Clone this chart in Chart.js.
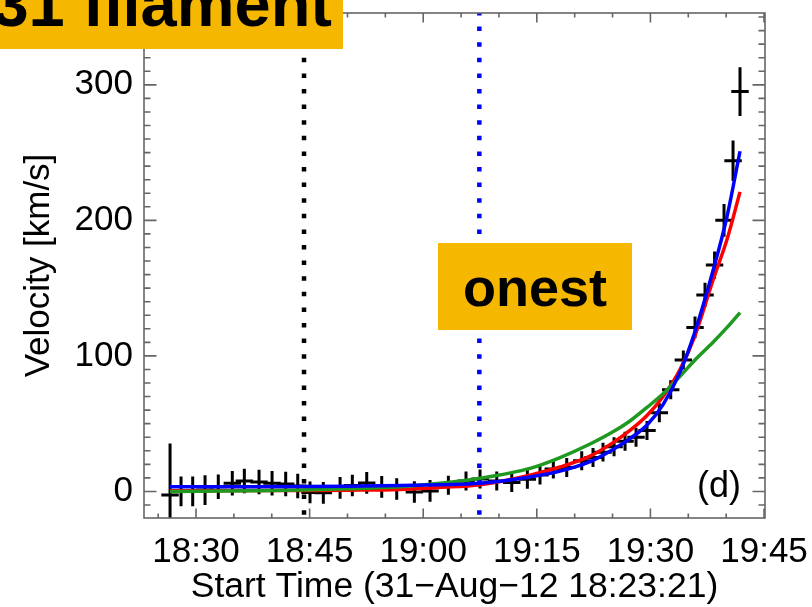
<!DOCTYPE html>
<html>
<head>
<meta charset="utf-8">
<script src="https://cdn.jsdelivr.net/npm/chart.js@4"></script>
<style>
  html, body { margin: 0; padding: 0; background: #fff; }
  canvas { display: block; }
</style>
</head>
<body>
<canvas id="c" width="812" height="607"></canvas>
<script>
// time in minutes after 18:00, velocity in km/s
const obsTime = [26.57, 28.02, 29.56, 31.19, 32.94, 34.79, 36.38, 38.32, 40.04, 41.84,
  43.43, 45.05, 46.81, 49.02, 50.64, 52.54, 54.52, 56.50, 58.83, 60.90,
  63.32, 65.65, 67.50, 69.71, 71.69, 73.75, 75.42, 77.18, 78.95, 80.93,
  82.42, 83.74, 85.20, 86.65, 88.10, 89.55, 91.18, 92.68, 94.35, 95.89,
  97.21, 98.47, 99.72, 100.91, 101.83];
const obsVel = [-2.6, 0, 0, 1, 3.5, 6, 7.7, 7, 6, 5.5,
  4, -0.7, -1, 2.6, 4.4, 6.3, 3.3, 1.8, -0.4, 0.4,
  4.5, 7.7, 9.2, 7.7, 6.6, 8.9, 12.2, 16.6, 17.7, 22.7,
  25, 29, 33, 37, 40, 45, 58, 75, 97, 121,
  145, 167, 200, 244, 295];
const obsErr = [38, 11, 11, 11, 9, 9, 9, 9, 9, 9,
  9, 8, 8, 8, 8, 8, 8, 8, 8, 8,
  7, 7, 7, 7, 7, 7, 7, 7, 7, 7,
  7, 7, 7, 7, 7, 7, 7, 7, 7, 8,
  9, 10, 12, 15, 18];
const obsTimeErr = 1.15;

const fitTime = [26.57, 37.13, 43.73, 50.34, 56.94, 62.22, 67.50, 74.10, 78.07, 82.03,
  85.06, 87.30, 89.55, 91.67, 93.91, 95.89, 98.27, 100.12, 101.83];
const fitBlue = [3.5, 3.5, 3.6, 3.9, 4.3, 5, 6, 10.7, 15, 22,
  31, 39, 49, 64, 88, 118, 163, 203, 251];
const fitRed = [0.5, 0.6, 0.7, 0.9, 1.5, 3, 5, 12, 18, 26,
  36, 45, 56, 70, 90, 115, 156, 186, 221];
const fitGreen = [0, 0.5, 1, 2, 3.5, 6, 9.7, 17, 25, 35,
  44, 52, 62, 72, 85, 97, 110, 121, 132];

const markerBlack = 44.26;
const markerBlue = 67.41;

const xTicks = [30, 45, 60, 75, 90, 105];
const yTicks = [0, 100, 200, 300];
const X_MIN = 23.13, X_MAX = 105.13, Y_MIN = -19.6, Y_MAX = 353;

const FONT = "'Liberation Sans', Arial, Helvetica, sans-serif";
const AXIS = '#666';

const fmtTime = (v) => {
  const h = 18 + Math.floor(v / 60);
  const m = Math.round(v % 60);
  return h + ':' + String(m).padStart(2, '0');
};
const pts = (xs, ys) => xs.map((x, i) => ({ x, y: ys[i] }));

// data crosses (error bars), under the fit curves
const errorBars = {
  id: 'errorBars',
  beforeDatasetsDraw(chart) {
    const { ctx, chartArea: a, scales: { x, y } } = chart;
    ctx.save();
    ctx.beginPath();
    ctx.rect(a.left, a.top, a.right - a.left, a.bottom - a.top);
    ctx.clip();
    ctx.strokeStyle = '#000';
    ctx.lineWidth = 3;
    ctx.beginPath();
    obsTime.forEach((t, i) => {
      const px = x.getPixelForValue(t);
      const py = y.getPixelForValue(obsVel[i]);
      ctx.moveTo(px, y.getPixelForValue(obsVel[i] + obsErr[i]));
      ctx.lineTo(px, y.getPixelForValue(obsVel[i] - obsErr[i]));
      ctx.moveTo(x.getPixelForValue(t - obsTimeErr), py);
      ctx.lineTo(x.getPixelForValue(t + obsTimeErr), py);
    });
    ctx.stroke();
    ctx.restore();
  },
};

// box frame, inward ticks, panel label and the yellow tags
const frame = {
  id: 'frame',
  afterDraw(chart) {
    const { ctx, chartArea: a, scales: { x, y } } = chart;
    ctx.save();
    ctx.strokeStyle = AXIS;
    ctx.lineWidth = 1.6;
    ctx.strokeRect(a.left, a.top, a.right - a.left, a.bottom - a.top);
    ctx.beginPath();
    for (let v = 25; v <= 105; v += 5) {
      const px = x.getPixelForValue(v);
      const len = xTicks.includes(v) ? 9.5 : 4.5;
      ctx.moveTo(px, a.bottom); ctx.lineTo(px, a.bottom - len);
      ctx.moveTo(px, a.top); ctx.lineTo(px, a.top + len);
    }
    for (let v = -10; v <= 350; v += 10) {
      const py = y.getPixelForValue(v);
      const len = yTicks.includes(v) ? 12.5 : 6.5;
      ctx.moveTo(a.left, py); ctx.lineTo(a.left + len, py);
      ctx.moveTo(a.right, py); ctx.lineTo(a.right - len, py);
    }
    ctx.stroke();

    ctx.fillStyle = '#000';
    ctx.font = '36px ' + FONT;
    ctx.textAlign = 'right';
    ctx.textBaseline = 'alphabetic';
    ctx.fillText('(d)', 741, 497);

    ctx.fillStyle = '#F5B700';
    ctx.fillRect(0, 0, 343, 49);
    ctx.fillRect(438, 243, 194, 87);
    ctx.fillStyle = '#000';
    ctx.font = 'bold 65px ' + FONT;
    ctx.textAlign = 'right';
    ctx.fillText('31 filament', 332, 26);
    ctx.font = 'bold 54px ' + FONT;
    ctx.textAlign = 'center';
    ctx.fillText('onest', 535, 306);
    ctx.restore();
  },
};

const curve = (data, color) => ({
  data, borderColor: color, backgroundColor: color, borderWidth: 3.5,
  pointRadius: 0, cubicInterpolationMode: 'monotone',
});
const vline = (t, color) => ({
  data: [{ x: t, y: Y_MAX }, { x: t, y: Y_MIN }],
  borderColor: color, borderWidth: 4.5, borderDash: [4.5, 11.1], borderDashOffset: 2,
  borderCapStyle: 'butt', pointRadius: 0,
});
const noPad = (s) => { s.paddingTop = 0; s.paddingBottom = 0; s.paddingLeft = 0; s.paddingRight = 0; };

new Chart(document.getElementById('c'), {
  type: 'line',
  data: {
    datasets: [
      curve(pts(fitTime, fitBlue), '#0000ff'),
      curve(pts(fitTime, fitGreen), '#1f991f'),
      curve(pts(fitTime, fitRed), '#ff0000'),
      vline(markerBlack, '#000'),
      vline(markerBlue, '#0000ff'),
    ],
  },
  options: {
    responsive: false,
    animation: false,
    layout: { padding: { top: 13, right: 47, left: 0, bottom: 0 } },
    plugins: { legend: { display: false }, tooltip: { enabled: false } },
    scales: {
      x: {
        type: 'linear',
        min: X_MIN,
        max: X_MAX,
        afterBuildTicks: (s) => { s.ticks = xTicks.map((v) => ({ value: v })); },
        afterFit: (s) => { s.height = 89; noPad(s); },
        grid: { display: false },
        border: { display: false },
        ticks: {
          color: '#000', font: { family: FONT, size: 35 }, padding: 5,
          maxRotation: 0, autoSkip: false, callback: (v) => fmtTime(v),
        },
        title: {
          display: true, text: 'Start Time (31\u2212Aug\u221212 18:23:21)', color: '#000',
          font: { family: FONT, size: 35.5, lineHeight: 1 }, padding: { top: 0, bottom: 2 },
        },
      },
      y: {
        type: 'linear',
        min: Y_MIN,
        max: Y_MAX,
        afterBuildTicks: (s) => { s.ticks = yTicks.map((v) => ({ value: v })); },
        afterFit: (s) => { s.width = 144; noPad(s); },
        grid: { display: false },
        border: { display: false },
        ticks: { color: '#000', font: { family: FONT, size: 35 }, padding: 3 },
        title: {
          display: true, text: 'Velocity [km/s]', color: '#000',
          font: { family: FONT, size: 35, lineHeight: 1 }, padding: { top: 22, bottom: 0 },
        },
      },
    },
  },
  plugins: [errorBars, frame],
});
</script>
</body>
</html>
